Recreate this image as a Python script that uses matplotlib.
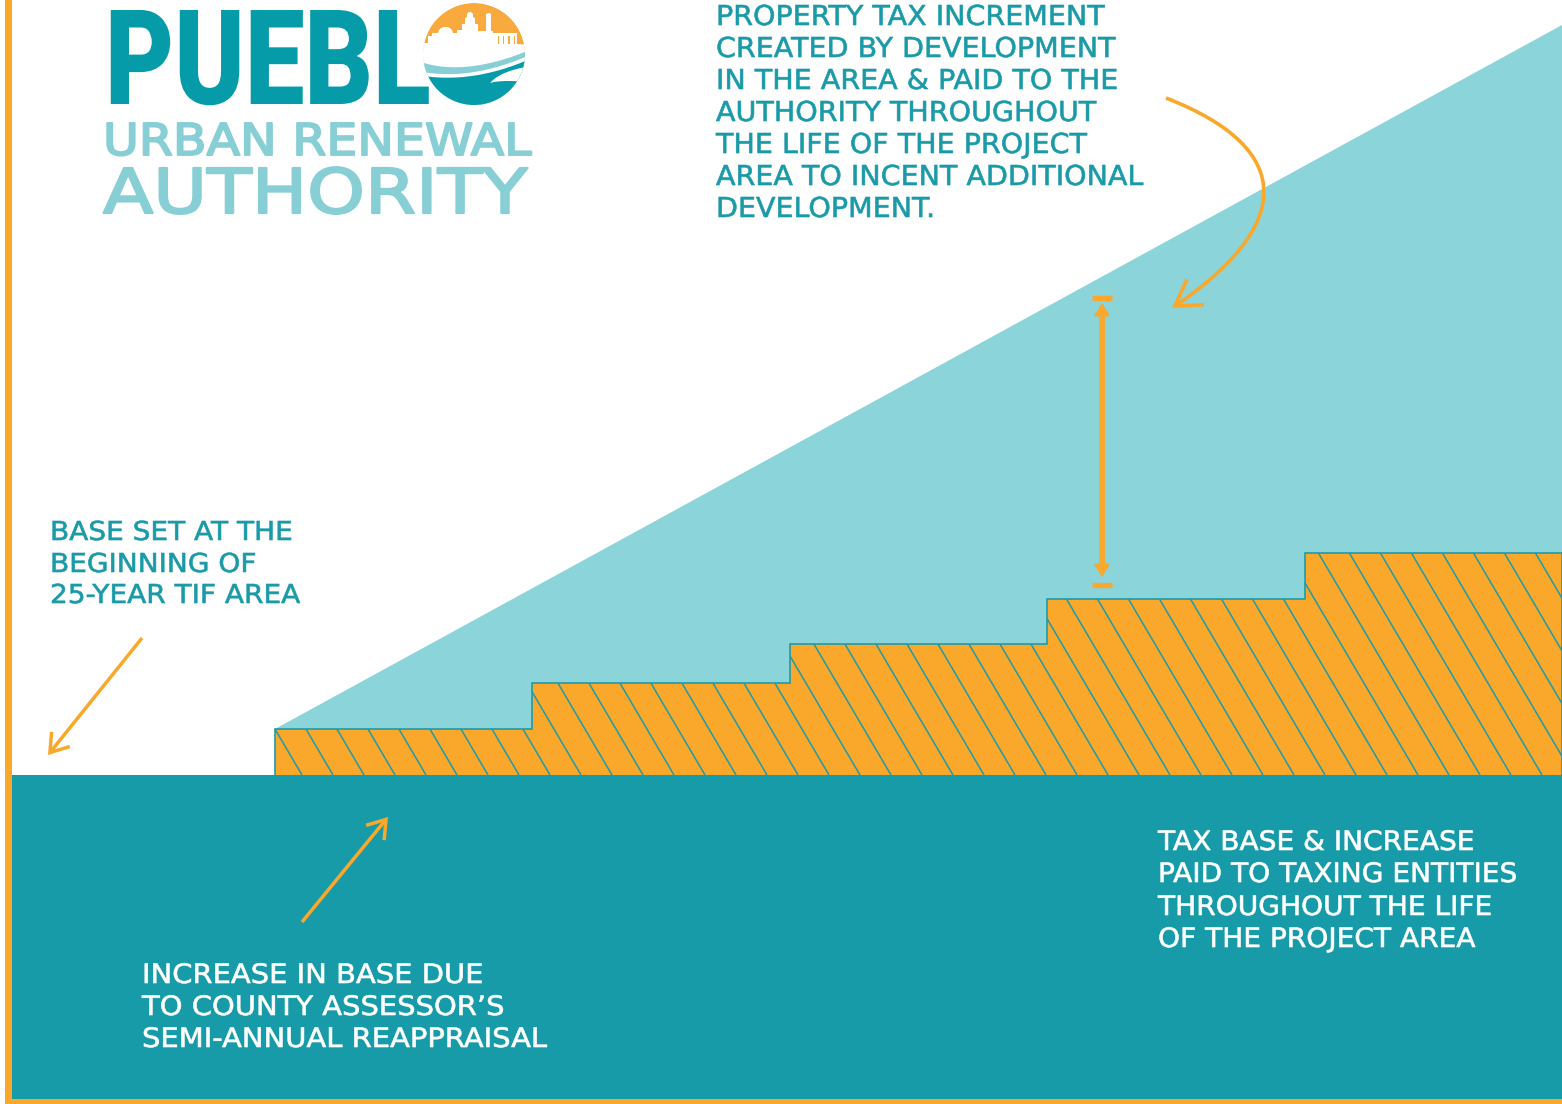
import numpy as np
import matplotlib
matplotlib.use("Agg")
import matplotlib.pyplot as plt
from matplotlib.patches import Polygon, Rectangle, Circle, FancyArrowPatch
from matplotlib.path import Path
from matplotlib.collections import LineCollection
from matplotlib.patheffects import AbstractPathEffect
from matplotlib.textpath import TextPath
from matplotlib.font_manager import FontProperties
from matplotlib.transforms import Affine2D

# ---------------- data ----------------
years = [0, 5, 10, 15, 20, 25]               # reappraisal boundaries over the 25-year TIF area
base_levels = [46, 92, 131, 176, 222]        # tax base after each reappraisal (above frozen base)
total_value = [46, 750]                      # total assessed value at start / end of the TIF area

text_increment = ["PROPERTY TAX INCREMENT", "CREATED BY DEVELOPMENT",
                  "IN THE AREA & PAID TO THE", "AUTHORITY THROUGHOUT",
                  "THE LIFE OF THE PROJECT", "AREA TO INCENT ADDITIONAL",
                  "DEVELOPMENT."]
text_base = ["BASE SET AT THE", "BEGINNING OF", "25-YEAR TIF AREA"]
text_reappraisal = ["INCREASE IN BASE DUE", "TO COUNTY ASSESSOR\u2019S",
                    "SEMI-ANNUAL REAPPRAISAL"]
text_entities = ["TAX BASE & INCREASE", "PAID TO TAXING ENTITIES",
                 "THROUGHOUT THE LIFE", "OF THE PROJECT AREA"]

# ---------------- style ----------------
ORANGE = "#F9A82B"
TEAL_DARK = "#189BA8"
TEAL_LIGHT = "#8BD4DA"
TEAL_LINE = "#1F9BA8"
TEAL_TEXT = "#1A9AA7"
LOGO_TEAL = "#069BA8"
LOGO_LIGHT = "#88CFD5"
LOGO_ORANGE = "#F9AA3E"

W, H = 1562, 1104
DPI = 100
PX = DPI / 72.0

fig = plt.figure(figsize=(W / DPI, H / DPI), dpi=DPI, facecolor="white")

# chart axes: x in years, y in assessed-value units
ax = fig.add_axes([0, 0, 1, 1])
px_per_year = 1287 / 25.0
ax.set_xlim(-275 / px_per_year, (W - 275) / px_per_year)
ax.set_ylim(775 - H, 775)
ax.axis("off")

# total value wedge (increment area)
wedge = Polygon([(years[0], total_value[0]), (years[-1], total_value[1]),
                 (years[-1], 0), (years[0], 0)], closed=True,
                facecolor=TEAL_LIGHT, edgecolor="none", zorder=1)
ax.add_patch(wedge)

# stepped tax base
step_pts = [(years[0], 0)]
for i, lvl in enumerate(base_levels):
    step_pts.append((years[i], lvl))
    step_pts.append((years[i + 1], lvl))
step_pts.append((years[-1], 0))
steps = Polygon(step_pts, closed=True, facecolor=ORANGE, edgecolor="none", zorder=2)
ax.add_patch(steps)

# diagonal hatching inside the steps
slope = 1.7                   # pixels up per pixel left
spacing = 31 / px_per_year    # years between hatch lines
phase = 27 / px_per_year
rise = 400
starts = np.arange(years[0] + phase - 12 * spacing, years[-1] + 4, spacing)
segs = [[(xb, 0), (xb - rise / slope / px_per_year, rise)] for xb in starts]
hatch = LineCollection(segs, colors=TEAL_LINE, linewidths=1.1, zorder=3)
hatch.set_clip_path(steps)
ax.add_collection(hatch)

outline = Polygon(step_pts, closed=False, facecolor="none", edgecolor=TEAL_LINE,
                  linewidth=1.2, zorder=4, joinstyle="miter")
ax.add_patch(outline)

# ---------------- overlay in pixel space ----------------
ov = fig.add_axes([0, 0, 1, 1])
ov.set_xlim(0, W)
ov.set_ylim(H, 0)
ov.axis("off")
ov.patch.set_alpha(0)

# base block and frame
ov.add_patch(Rectangle((12, 775), W - 12, 324, facecolor=TEAL_DARK, edgecolor="none", zorder=1))
ov.add_patch(Rectangle((5, 0), 7, H, facecolor=ORANGE, edgecolor="none", zorder=2))
ov.add_patch(Rectangle((5, 1098.5), W - 5, 6, facecolor=ORANGE, edgecolor="none", zorder=2))


class Shape(AbstractPathEffect):
    """Scale rendered glyphs about a display anchor and optionally embolden them."""

    def __init__(self, sx, sy, x0, y0, stroke=0.0):
        super().__init__()
        self._t = Affine2D().translate(-x0, -y0).scale(sx, sy).translate(x0, y0)
        self._stroke = stroke

    def draw_path(self, renderer, gc, tpath, affine, rgbFace=None):
        tr = affine + self._t
        if self._stroke > 0 and rgbFace is not None:
            g = renderer.new_gc()
            g.copy_properties(gc)
            g.set_linewidth(self._stroke)
            g.set_foreground(rgbFace)
            g.set_joinstyle("round")
            renderer.draw_path(g, tpath, tr, rgbFace)
            g.restore()
        else:
            renderer.draw_path(gc, tpath, tr, rgbFace)


def cap_ratio(fp):
    return TextPath((0, 0), "H", size=100, prop=fp).get_extents().height / 100.0


def text_block(lines, left, baselines, cap, ref_line, ref_right, color,
               family="DejaVu Sans", weight="normal", stroke=0.0, squash=1.0, z=6):
    fp = FontProperties(family=family, weight=weight)
    fs = cap / (cap_ratio(fp) * PX)
    ref = TextPath((0, 0), ref_line, size=fs, prop=fp).get_extents()
    sx = (ref_right - left) / (ref.width * PX)
    for s, yb in zip(lines, baselines):
        xd, yd = ov.transData.transform((left, yb))
        ov.text(left, yb, s, fontproperties=fp, fontsize=fs / squash, color=color,
                ha="left", va="baseline", zorder=z,
                path_effects=[Shape(sx * squash, squash, xd, yd, stroke)])


# logo lettering
text_block(["PUEBL"], 105, [104], 94, "PUEBL", 423, LOGO_TEAL,
           family="Roboto", weight="black", squash=2.0)
text_block(["URBAN RENEWAL"], 103, [155], 32, "URBAN RENEWAL", 527, LOGO_LIGHT,
           stroke=1.4, squash=1.5)
text_block(["AUTHORITY"], 103, [213], 45, "AUTHORITY", 527, LOGO_LIGHT,
           stroke=1.6, squash=1.5)

# logo emblem
cx, cy, r = 474, 54, 51
clip = Circle((cx, cy), r, transform=ov.transData)


def bez(p0, p1, p2, p3, n=50):
    t = np.linspace(0, 1, n)[:, None]
    p0, p1, p2, p3 = map(np.asarray, (p0, p1, p2, p3))
    return (1 - t) ** 3 * p0 + 3 * (1 - t) ** 2 * t * p1 + 3 * (1 - t) * t ** 2 * p2 + t ** 3 * p3


def clipped(patch, z):
    patch.set_zorder(z)
    ov.add_patch(patch)
    patch.set_clip_path(clip)


clipped(Circle((cx, cy), r, facecolor=LOGO_ORANGE, edgecolor="none"), 3)
skyline = [(418, 115), (418, 43), (428, 43), (428, 36), (432, 36), (432, 33), (438, 33),
           (439, 30), (441, 28), (444, 27), (447, 27), (450, 28), (452, 30), (453, 33),
           (457, 33), (457, 30), (462, 30), (462, 24), (465, 24), (465, 18), (467, 17),
           (467, 14), (469, 12), (471, 12), (473, 14), (473, 17), (475, 18), (475, 24),
           (478, 24), (478, 31), (486, 31), (486, 14), (488, 13), (490, 13), (491, 14),
           (491, 31), (493, 31), (493, 33), (517, 33), (517, 44), (530, 45), (530, 115)]
clipped(Polygon(skyline, closed=True, facecolor="white", edgecolor="none"), 4)
for sx_ in (497.5, 502.5, 508, 513.5):
    clipped(Rectangle((sx_, 35.5), 1.6, 8, facecolor=LOGO_ORANGE, edgecolor="none"), 4.5)

c1 = bez((418, 61), (450, 73), (490, 67), (532, 49))
c2 = bez((418, 71), (455, 79), (495, 71), (532, 54))
c3 = bez((418, 75), (455, 82), (495, 75), (532, 58))
tail = [(532, 115), (418, 115)]
clipped(Polygon(np.vstack([c1, tail]), facecolor=LOGO_LIGHT, edgecolor="none"), 5)
clipped(Polygon(np.vstack([c2, tail]), facecolor="white", edgecolor="none"), 5.1)
clipped(Polygon(np.vstack([c3, tail]), facecolor=LOGO_TEAL, edgecolor="none"), 5.2)
notch_top = bez((532, 66), (512, 69), (498, 74), (490, 83))
notch_bot = bez((490, 83), (500, 80), (515, 81), (532, 82))
clipped(Polygon(np.vstack([notch_top, notch_bot]), facecolor="white", edgecolor="none"), 5.3)

# annotations
body = dict(stroke=0.45)
text_block(text_increment, 716, [25 + 32 * i for i in range(7)], 20,
           "CREATED BY DEVELOPMENT", 1114, TEAL_TEXT, **body)
text_block(text_base, 50, [540, 572, 603], 19, "25-YEAR TIF AREA", 298, TEAL_TEXT, **body)
text_block(text_reappraisal, 142, [983, 1015, 1047], 19.5,
           "SEMI-ANNUAL REAPPRAISAL", 545, "white", **body)
text_block(text_entities, 1158, [850, 882, 915, 947], 19.5,
           "PAID TO TAXING ENTITIES", 1513, "white", **body)

arrow_kw = dict(color=ORANGE, lw=2.5, mutation_scale=20, zorder=7,
                shrinkA=0, shrinkB=0, capstyle="butt", joinstyle="miter")
ov.add_patch(FancyArrowPatch((142, 638), (48, 755),
                             arrowstyle="->,head_length=0.62,head_width=0.42", **arrow_kw))
ov.add_patch(FancyArrowPatch((302, 922), (388, 817),
                             arrowstyle="->,head_length=0.62,head_width=0.42", **arrow_kw))
curve = Path([(1166, 98), (1300, 150), (1290, 228), (1172, 308)],
             [Path.MOVETO, Path.CURVE4, Path.CURVE4, Path.CURVE4])
ov.add_patch(FancyArrowPatch(path=curve, arrowstyle="->,head_length=0.9,head_width=0.55",
                             color=ORANGE, lw=2.6, mutation_scale=20, zorder=7,
                             capstyle="butt", joinstyle="miter"))

# increment measure bar
ax_x = 1102
ov.add_patch(FancyArrowPatch((ax_x, 577), (ax_x, 303),
                             arrowstyle="<|-|>,head_length=0.85,head_width=0.52",
                             mutation_scale=10, color=ORANGE, lw=0.8,
                             shrinkA=0, shrinkB=0, zorder=7))
ov.plot([ax_x, ax_x], [312, 568], color=ORANGE, lw=4.2, solid_capstyle="butt", zorder=7)
for yb in (297.5, 584.5):
    ov.plot([ax_x - 10, ax_x + 10], [yb, yb], color=ORANGE, lw=3.8,
            solid_capstyle="butt", zorder=7)

fig.savefig("out.png", dpi=DPI, facecolor="white")
